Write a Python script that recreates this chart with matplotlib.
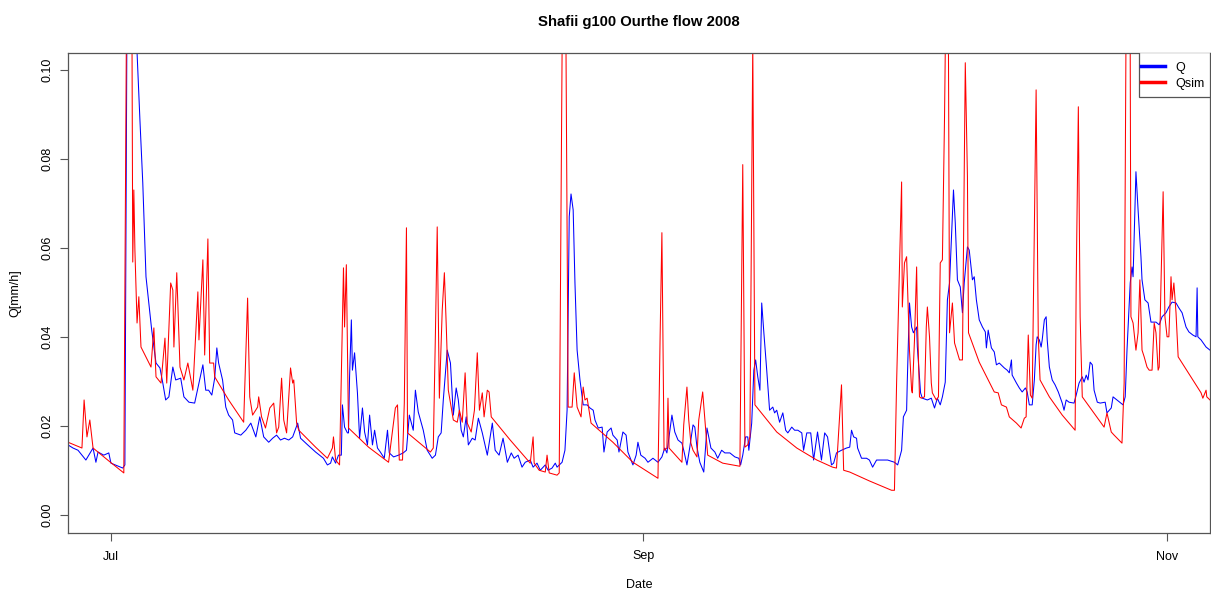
import numpy as np
import matplotlib
matplotlib.use("Agg")
import matplotlib.pyplot as plt
from matplotlib.patches import Rectangle

# values; time = hours since 2008-07-01 00:00
q_hours = [-120, -106, -92, -70, -50, -42, -36, -20, -6, 0, 33, 39, 47, 59, 73, 81, 89, 98,
           106, 114, 126, 137, 145, 153, 162, 173, 181, 195, 204, 218, 234, 246, 257, 265,
           273, 282, 290, 296, 301, 312, 321, 329, 340, 346, 363, 377, 391, 405, 416, 427,
           441, 452, 463, 474, 485, 497, 508, 522, 530, 550, 572, 594, 605, 614, 619, 628,
           636, 644, 647, 653, 661, 664, 667, 672, 675, 681, 689, 695, 703, 709, 717, 723,
           731, 737, 745, 753, 764, 773, 778, 790, 804, 817, 826, 834, 845, 851, 859, 873,
           884, 898, 907, 915, 923, 929, 940, 949, 957, 965, 971, 979, 985, 993, 999, 1010,
           1018, 1027, 1038, 1052, 1066, 1074, 1085, 1096, 1108, 1119, 1127, 1138, 1149,
           1158, 1172, 1180, 1191, 1200, 1214, 1222, 1233, 1242, 1247, 1261, 1269, 1275,
           1281, 1286, 1292, 1297, 1303, 1311, 1320, 1331, 1339, 1348, 1353, 1362, 1373,
           1378, 1387, 1398, 1403, 1415, 1420, 1431, 1440, 1445, 1459, 1468, 1473, 1481,
           1493, 1501, 1515, 1529, 1540, 1548, 1554, 1568, 1576, 1585, 1596, 1601, 1610,
           1618, 1627, 1632, 1638, 1646, 1657, 1666, 1677, 1688, 1696, 1707, 1716, 1730,
           1744, 1755, 1760, 1766, 1774, 1780, 1783, 1791, 1797, 1802, 1808, 1814, 1819,
           1825, 1833, 1841, 1850, 1855, 1861, 1869, 1878, 1886, 1892, 1903, 1911, 1920,
           1931, 1936, 1945, 1956, 1964, 1975, 1986, 1995, 2003, 2014, 2020, 2028, 2042,
           2056, 2065, 2070, 2076, 2084, 2087, 2098, 2112, 2120, 2129, 2140, 2171, 2190,
           2199, 2210, 2215, 2224, 2226, 2232, 2238, 2243, 2252, 2254, 2263, 2268, 2282,
           2293, 2302, 2310, 2318, 2324, 2332, 2338, 2344, 2352, 2355, 2360, 2366, 2374,
           2380, 2385, 2394, 2399, 2408, 2413, 2419, 2427, 2436, 2444, 2447, 2452, 2461,
           2469, 2475, 2483, 2497, 2505, 2511, 2517, 2519, 2531, 2539, 2547, 2556, 2561,
           2567, 2575, 2581, 2586, 2589, 2595, 2600, 2603, 2609, 2614, 2617, 2623, 2631,
           2639, 2648, 2659, 2664, 2670, 2678, 2692, 2698, 2706, 2715, 2720, 2726, 2731,
           2737, 2743, 2748, 2757, 2765, 2779, 2784, 2796, 2801, 2812, 2823, 2829, 2835,
           2840, 2849, 2854, 2857, 2865, 2871, 2879, 2882, 2890, 2899, 2907, 2921, 2930,
           2938, 2949, 2957, 2966, 2977, 2985, 2994, 3005, 3013, 3024, 3033, 3036, 3038,
           3047, 3061, 3072]
q_obs = [0.0158, 0.0151, 0.0146, 0.0124, 0.0151, 0.0119, 0.0142, 0.0135, 0.0140, 0.0117,
         0.0106, 0.0113, 0.150, 0.125, 0.104, 0.0889, 0.0747, 0.0536, 0.0477, 0.0416,
         0.0342, 0.0331, 0.0297, 0.0259, 0.0266, 0.0333, 0.0304, 0.0308, 0.0266, 0.0254,
         0.0252, 0.0297, 0.0338, 0.0281, 0.0281, 0.0270, 0.0308, 0.0376, 0.0342, 0.0304,
         0.0243, 0.0225, 0.0214, 0.0185, 0.0180, 0.0191, 0.0207, 0.0176, 0.0221, 0.0176,
         0.0164, 0.0173, 0.0180, 0.0169, 0.0173, 0.0169, 0.0176, 0.0207, 0.0173, 0.0158,
         0.0142, 0.0128, 0.0113, 0.0117, 0.0131, 0.0117, 0.0135, 0.0135, 0.0248, 0.0198,
         0.0185, 0.0185, 0.0311, 0.0439, 0.0326, 0.0365, 0.0275, 0.0173, 0.0241, 0.0187,
         0.0158, 0.0225, 0.0158, 0.0191, 0.0151, 0.0142, 0.0128, 0.0191, 0.0140, 0.0131,
         0.0135, 0.0140, 0.0146, 0.0225, 0.0191, 0.0281, 0.0232, 0.0191, 0.0146, 0.0128,
         0.0135, 0.0176, 0.0185, 0.0259, 0.0371, 0.0342, 0.0225, 0.0286, 0.0259, 0.0191,
         0.0176, 0.0221, 0.0158, 0.0173, 0.0169, 0.0218, 0.0185, 0.0135, 0.0207, 0.0146,
         0.0135, 0.0173, 0.0119, 0.0140, 0.0128, 0.0135, 0.0108, 0.0119, 0.0124, 0.0108,
         0.0117, 0.0101, 0.0113, 0.0101, 0.0106, 0.0117, 0.0108, 0.0119, 0.0146, 0.0236,
         0.0671, 0.0722, 0.0686, 0.0522, 0.0371, 0.0304, 0.0248, 0.0248, 0.0241, 0.0236,
         0.0214, 0.0196, 0.0198, 0.0142, 0.0187, 0.0196, 0.0180, 0.0169, 0.0142, 0.0187,
         0.0180, 0.0142, 0.0113, 0.0135, 0.0164, 0.0135, 0.0128, 0.0119, 0.0128, 0.0119,
         0.0131, 0.0151, 0.0140, 0.0225, 0.0187, 0.0169, 0.0162, 0.0146, 0.0113, 0.0153,
         0.0203, 0.0198, 0.0153, 0.0119, 0.0097, 0.0196, 0.0151, 0.0142, 0.0128, 0.0146,
         0.0140, 0.0140, 0.0131, 0.0128, 0.0113, 0.0135, 0.0176, 0.0176, 0.0146, 0.0207,
         0.0326, 0.0349, 0.0311, 0.0281, 0.0477, 0.0410, 0.0326, 0.0236, 0.0243, 0.0230,
         0.0236, 0.0209, 0.0230, 0.0191, 0.0185, 0.0198, 0.0191, 0.0191, 0.0185, 0.0146,
         0.0185, 0.0185, 0.0124, 0.0187, 0.0124, 0.0185, 0.0176, 0.0113, 0.0117, 0.0140,
         0.0146, 0.0151, 0.0153, 0.0191, 0.0176, 0.0173, 0.0151, 0.0128, 0.0128, 0.0124,
         0.0108, 0.0124, 0.0124, 0.0119, 0.0113, 0.0146, 0.0221, 0.0236, 0.0304, 0.0477,
         0.0423, 0.0410, 0.0423, 0.0378, 0.0275, 0.0263, 0.0259, 0.0263, 0.0241, 0.0263,
         0.0248, 0.0266, 0.0299, 0.0484, 0.0522, 0.0671, 0.0731, 0.0657, 0.0529, 0.0513,
         0.0455, 0.0522, 0.0603, 0.0596, 0.0529, 0.0536, 0.0484, 0.0439, 0.0423, 0.0412,
         0.0376, 0.0416, 0.0376, 0.0367, 0.0338, 0.0342, 0.0331, 0.0326, 0.0320, 0.0349,
         0.0315, 0.0297, 0.0286, 0.0277, 0.0286, 0.0277, 0.0248, 0.0248, 0.0304, 0.0383,
         0.0401, 0.0394, 0.0378, 0.0394, 0.0439, 0.0446, 0.0394, 0.0333, 0.0304, 0.0293,
         0.0277, 0.0252, 0.0236, 0.0259, 0.0254, 0.0252, 0.0270, 0.0297, 0.0311, 0.0299,
         0.0315, 0.0304, 0.0344, 0.0338, 0.0281, 0.0254, 0.0252, 0.0254, 0.0230, 0.0241,
         0.0266, 0.0259, 0.0252, 0.0248, 0.0266, 0.0371, 0.0522, 0.0558, 0.0536, 0.0772,
         0.0686, 0.0581, 0.0529, 0.0484, 0.0477, 0.0434, 0.0434, 0.0428, 0.0446, 0.0455,
         0.0468, 0.0479, 0.0477, 0.0466, 0.0455, 0.0423, 0.0412, 0.0405, 0.0401, 0.0511,
         0.0401, 0.0394, 0.0378, 0.0371]

qsim_hours = [-120, -81, -75, -67, -59, -50, -6, 36, 47, 59, 61, 64, 67, 73, 78, 84, 112,
              120, 126, 140, 151, 156, 167, 173, 176, 184, 193, 204, 215, 229, 243, 246,
              257, 262, 271, 276, 287, 290, 329, 371, 382, 388, 396, 410, 413, 421, 432,
              444, 455, 463, 469, 477, 483, 491, 502, 508, 511, 519, 525, 572, 605, 619,
              622, 628, 639, 650, 653, 658, 664, 720, 776, 795, 801, 806, 815, 820, 826,
              829, 893, 901, 907, 912, 918, 926, 932, 937, 943, 951, 957, 968, 974, 982,
              990, 996, 1007, 1016, 1024, 1030, 1038, 1043, 1052, 1057, 1063, 1116, 1172,
              1180, 1183, 1197, 1214, 1219, 1225, 1247, 1253, 1261, 1267, 1272, 1278, 1289,
              1295, 1303, 1314, 1320, 1325, 1331, 1342, 1403, 1459, 1529, 1535, 1540, 1546,
              1554, 1557, 1560, 1596, 1601, 1610, 1615, 1621, 1627, 1638, 1643, 1654, 1663,
              1668, 1694, 1710, 1758, 1766, 1772, 1780, 1786, 1794, 1800, 1805, 1861, 1917,
              1973, 2017, 2028, 2042, 2048, 2065, 2120, 2182, 2190, 2196, 2210, 2212, 2218,
              2224, 2226, 2232, 2238, 2240, 2246, 2252, 2254, 2260, 2265, 2274, 2279, 2282,
              2288, 2293, 2296, 2307, 2313, 2318, 2324, 2330, 2335, 2341, 2344, 2352, 2358,
              2372, 2380, 2388, 2394, 2397, 2427, 2469, 2480, 2489, 2503, 2511, 2531, 2544,
              2553, 2558, 2564, 2570, 2575, 2586, 2592, 2597, 2623, 2659, 2695, 2698, 2704,
              2709, 2715, 2776, 2784, 2796, 2804, 2826, 2832, 2840, 2849, 2851, 2857, 2863,
              2865, 2871, 2876, 2882, 2888, 2896, 2902, 2910, 2916, 2921, 2927, 2930, 2935,
              2941, 2946, 2952, 2957, 2963, 2966, 2971, 2977, 2983, 3047, 3052, 3061, 3063,
              3072]
qsim_vals = [0.0164, 0.0151, 0.0259, 0.0176, 0.0214, 0.0151, 0.0122, 0.0095, 0.160, 0.104,
             0.0569, 0.0731, 0.0596, 0.0432, 0.0491, 0.0378, 0.0333, 0.0421, 0.0311, 0.0297,
             0.0398, 0.0297, 0.0522, 0.0506, 0.0378, 0.0545, 0.0333, 0.0304, 0.0342, 0.0281,
             0.0502, 0.0394, 0.0574, 0.0360, 0.0621, 0.0342, 0.0342, 0.0311, 0.0259, 0.0209,
             0.0488, 0.0266, 0.0225, 0.0243, 0.0266, 0.0221, 0.0196, 0.0241, 0.0252, 0.0185,
             0.0198, 0.0308, 0.0214, 0.0185, 0.0331, 0.0297, 0.0304, 0.0207, 0.0191, 0.0153,
             0.0128, 0.0151, 0.0176, 0.0124, 0.0113, 0.0556, 0.0423, 0.0563, 0.0196, 0.0153,
             0.0119, 0.0241, 0.0248, 0.0124, 0.0124, 0.0252, 0.0646, 0.0185, 0.0142, 0.0151,
             0.0410, 0.0648, 0.0263, 0.0461, 0.0545, 0.0432, 0.0281, 0.0243, 0.0214, 0.0209,
             0.0236, 0.0209, 0.0320, 0.0207, 0.0187, 0.0236, 0.0365, 0.0236, 0.0275, 0.0221,
             0.0281, 0.0277, 0.0221, 0.0169, 0.0117, 0.0176, 0.0117, 0.0101, 0.0097, 0.0135,
             0.0095, 0.0090, 0.0095, 0.104, 0.140, 0.104, 0.0243, 0.0243, 0.0320, 0.0243,
             0.0221, 0.0288, 0.0259, 0.0263, 0.0207, 0.0164, 0.0119, 0.0083, 0.0401, 0.0635,
             0.0146, 0.0151, 0.0263, 0.0151, 0.0119, 0.0203, 0.0288, 0.0214, 0.0162, 0.0146,
             0.0131, 0.0214, 0.0277, 0.0185, 0.0135, 0.0124, 0.0117, 0.0110, 0.0788, 0.0153,
             0.0158, 0.0176, 0.106, 0.0248, 0.0243, 0.0187, 0.0151, 0.0124, 0.0108, 0.0106,
             0.0293, 0.0101, 0.0097, 0.0077, 0.0056, 0.0056, 0.0297, 0.0749, 0.0468, 0.0567,
             0.0581, 0.0529, 0.0371, 0.0281, 0.0275, 0.0394, 0.0558, 0.0446, 0.0266, 0.0263,
             0.0266, 0.0423, 0.0468, 0.0401, 0.0297, 0.0275, 0.0259, 0.0266, 0.0567, 0.0574,
             0.0896, 0.125, 0.104, 0.0410, 0.0477, 0.0387, 0.0349, 0.0349, 0.1017, 0.0761,
             0.0410, 0.0344, 0.0277, 0.0275, 0.0248, 0.0243, 0.0221, 0.0207, 0.0196, 0.0218,
             0.0221, 0.0405, 0.0270, 0.0263, 0.0956, 0.0401, 0.0304, 0.0266, 0.0225, 0.0191,
             0.0522, 0.0918, 0.0446, 0.0266, 0.0198, 0.0230, 0.0187, 0.0180, 0.0162, 0.0297,
             0.150, 0.104, 0.0446, 0.0432, 0.0387, 0.0371, 0.0410, 0.0529, 0.0371, 0.0356,
             0.0333, 0.0326, 0.0326, 0.0432, 0.0410, 0.0326, 0.0333, 0.0522, 0.0727, 0.0446,
             0.0401, 0.0401, 0.0536, 0.0484, 0.0522, 0.0455, 0.0356, 0.0275, 0.0263, 0.0281,
             0.0266, 0.0259]

y_ticks = [0.00, 0.02, 0.04, 0.06, 0.08, 0.10]
month_ticks = ["2008-07-01", "2008-09-01", "2008-11-01"]
month_labels = ["Jul", "Sep", "Nov"]

t0 = np.datetime64("2008-07-01T00:00")
q_time = t0 + np.array(q_hours) * np.timedelta64(1, "h")
qsim_time = t0 + np.array(qsim_hours) * np.timedelta64(1, "h")

plt.rcParams["font.family"] = ["Liberation Sans", "DejaVu Sans"]
frame_col = "#555555"

fig = plt.figure(figsize=(12.11, 5.94), dpi=100)
ax = fig.add_axes([68 / 1211, 1 - 533 / 594, 1142 / 1211, 480.5 / 594])

ax.plot(q_time, q_obs, color="#0000ff", lw=0.75, label="Q")
ax.plot(qsim_time, qsim_vals, color="#ff0000", lw=0.75, label="Qsim")

ax.set_xlim(q_time[0], q_time[-1])
ax.set_ylim(-0.004, 0.104)
ax.set_yticks(y_ticks)
ax.set_yticklabels(["%.2f" % v for v in y_ticks])
for lab in ax.get_yticklabels():
    lab.set_rotation(90)
    lab.set_va("center")
ax.set_xticks(np.array(month_ticks, dtype="datetime64[h]"))
ax.set_xticklabels(month_labels)

ax.tick_params(direction="out", length=5.6, width=0.8, labelsize=9, color=frame_col)
ax.tick_params(axis="x", pad=7)
ax.tick_params(axis="y", pad=4.5)
for s in ax.spines.values():
    s.set_linewidth(0.9)
    s.set_color(frame_col)

fig.text(639 / 1211, 1 - 22 / 594, "Shafii g100 Ourthe flow 2008",
         ha="center", va="center", fontsize=10.7, fontweight="bold")
fig.text(639 / 1211, 1 - 585 / 594, "Date", ha="center", va="center", fontsize=9)
fig.text(15 / 1211, 1 - 293 / 594, "Q[mm/h]", ha="center", va="center",
         rotation=90, fontsize=9)

# legend box drawn by hand so its size follows the R one
ax.add_patch(Rectangle((0.9378, 0.908), 0.0622, 0.092, transform=ax.transAxes,
                       facecolor="white", edgecolor=frame_col, lw=0.9, zorder=4))
leg = ax.legend(loc="upper left", bbox_to_anchor=(0.9352, 0.991), borderaxespad=0,
                frameon=False, fontsize=9, handlelength=1.92, borderpad=0.4,
                labelspacing=0.31, handletextpad=0.8)
leg.set_zorder(5)
for line in leg.get_lines():
    line.set_linewidth(2.5)

fig.savefig("out.png", dpi=100)
